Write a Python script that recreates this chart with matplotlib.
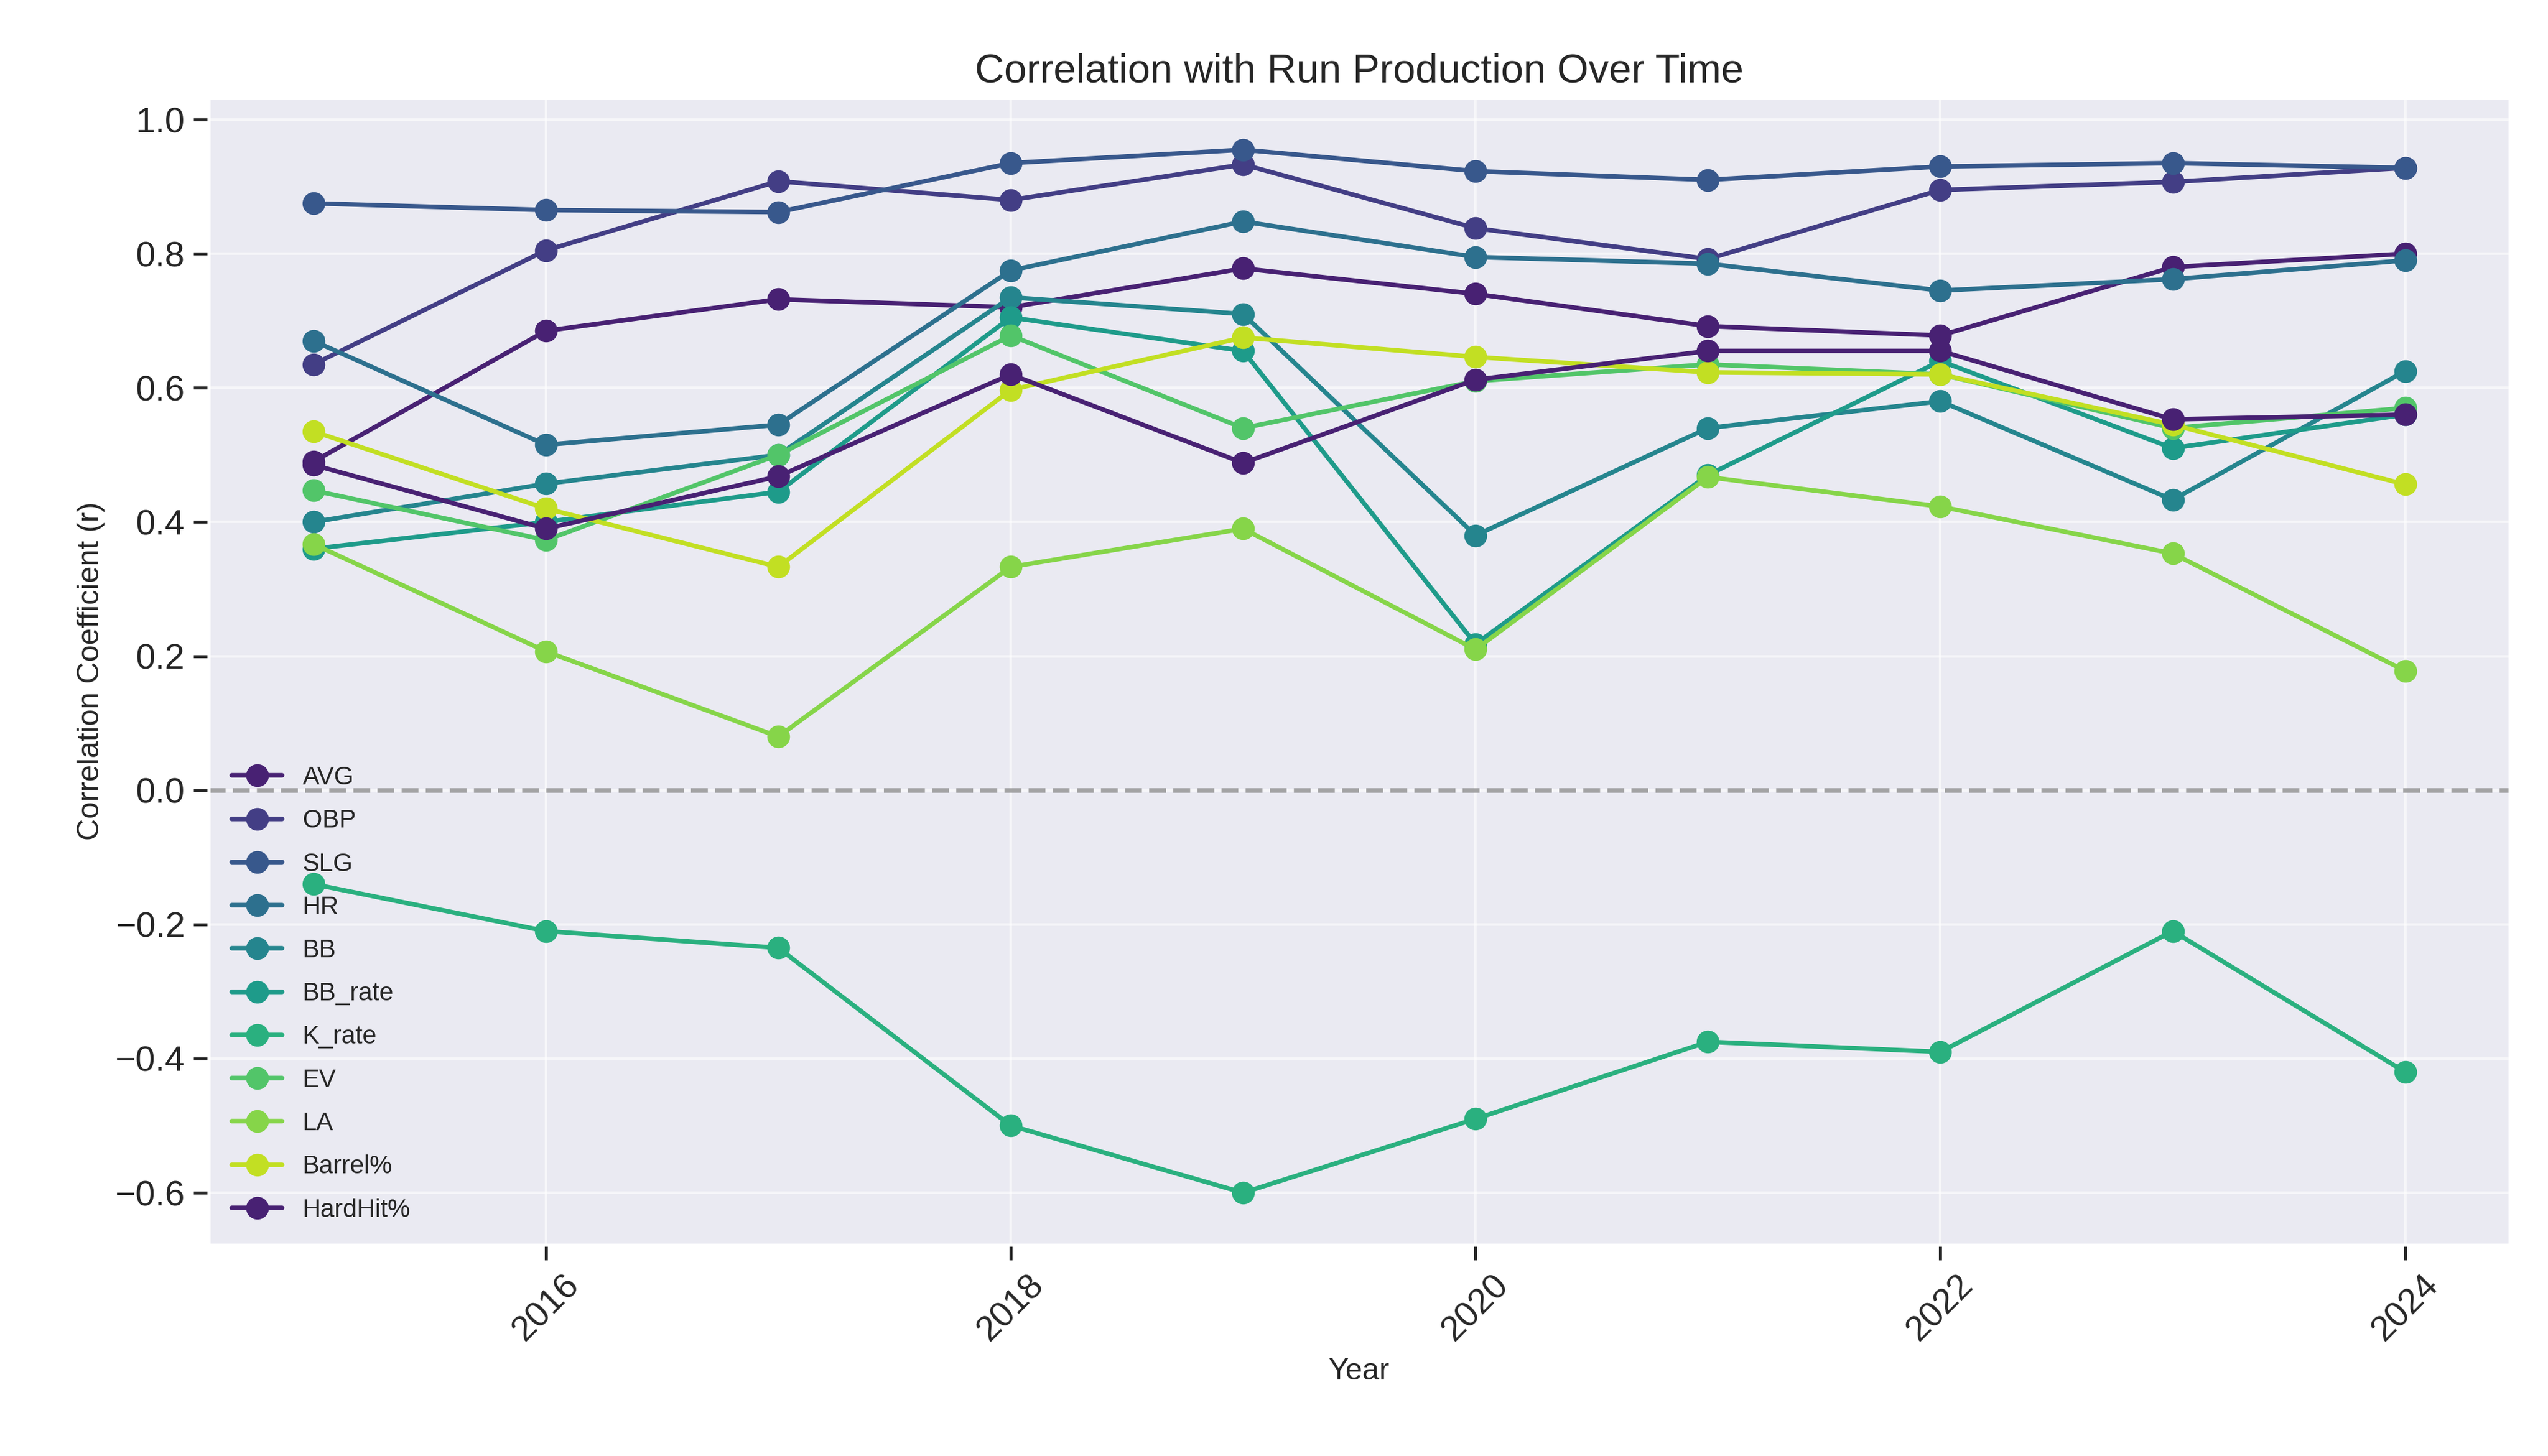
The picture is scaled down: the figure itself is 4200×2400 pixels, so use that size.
import matplotlib
matplotlib.use("Agg")
import matplotlib.pyplot as plt
import seaborn as sns

years = [2015, 2016, 2017, 2018, 2019, 2020, 2021, 2022, 2023, 2024]
AVG = [0.49, 0.685, 0.732, 0.72, 0.778, 0.74, 0.692, 0.678, 0.78, 0.80]
OBP = [0.635, 0.805, 0.908, 0.880, 0.933, 0.838, 0.792, 0.895, 0.907, 0.928]
SLG = [0.875, 0.865, 0.862, 0.935, 0.955, 0.923, 0.910, 0.930, 0.935, 0.928]
HR = [0.67, 0.515, 0.545, 0.775, 0.848, 0.795, 0.785, 0.745, 0.762, 0.79]
BB = [0.40, 0.457, 0.50, 0.735, 0.71, 0.38, 0.54, 0.58, 0.433, 0.625]
BB_rate = [0.36, 0.40, 0.445, 0.705, 0.655, 0.218, 0.47, 0.64, 0.51, 0.56]
K_rate = [-0.14, -0.21, -0.235, -0.50, -0.60, -0.49, -0.375, -0.39, -0.21, -0.42]
EV = [0.447, 0.373, 0.50, 0.678, 0.54, 0.61, 0.635, 0.62, 0.54, 0.57]
LA = [0.367, 0.207, 0.08, 0.333, 0.39, 0.21, 0.467, 0.423, 0.353, 0.178]
Barrel = [0.535, 0.42, 0.333, 0.597, 0.675, 0.646, 0.623, 0.62, 0.545, 0.456]
HardHit = [0.485, 0.39, 0.468, 0.62, 0.488, 0.612, 0.655, 0.655, 0.553, 0.56]

series = [("AVG", AVG), ("OBP", OBP), ("SLG", SLG), ("HR", HR), ("BB", BB),
          ("BB_rate", BB_rate), ("K_rate", K_rate), ("EV", EV), ("LA", LA),
          ("Barrel%", Barrel), ("HardHit%", HardHit)]

sns.set_theme(style="darkgrid")
plt.rcParams['font.family'] = ['Arial', 'Liberation Sans', 'DejaVu Sans']
pal = sns.color_palette("viridis", 10)

fig, ax = plt.subplots(figsize=(14, 8), dpi=300)
for i, (name, vals) in enumerate(series):
    ax.plot(years, vals, marker='o', markersize=8, linewidth=1.8,
            color=pal[i % 10], label=name)
ax.axhline(0, color='gray', linestyle='--', alpha=0.7, linewidth=1.8)
ax.set_title("Correlation with Run Production Over Time", fontsize=16)
ax.set_xlabel("Year", fontsize=12)
ax.set_ylabel("Correlation Coefficient (r)", fontsize=12)
ax.tick_params(axis='both', labelsize=14, length=6, width=1.2, bottom=True, left=True)
ax.set_xticks([2016, 2018, 2020, 2022, 2024])
plt.setp(ax.get_xticklabels(), rotation=45)
ax.grid(True, color='white', alpha=0.6)
ax.legend(loc='lower left', frameon=False, fontsize=10, labelspacing=0.75)
fig.subplots_adjust(left=0.082, right=0.985, top=0.933, bottom=0.145)
fig.savefig("out.png")
